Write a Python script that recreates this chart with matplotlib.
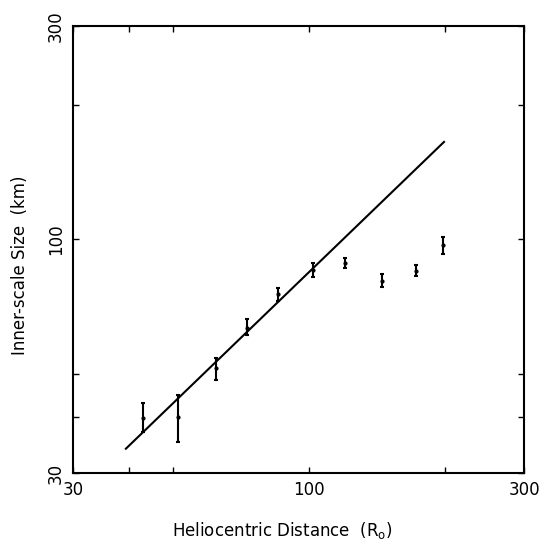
import numpy as np
import matplotlib.pyplot as plt
import matplotlib as mpl

# data
dist = [42.9, 51.3, 62.3, 72.9, 85.5, 102.2, 120.3, 145.3, 172.9, 198.4]
size = [39.8, 40.0, 51.5, 63.3, 75.4, 85.4, 88.5, 80.7, 84.9, 97.1]
size_lo = [37.0, 35.2, 48.5, 61.1, 72.7, 82.4, 86.3, 78.2, 82.8, 92.7]
size_hi = [43.0, 44.8, 54.2, 66.3, 77.8, 88.5, 90.8, 83.6, 87.6, 101.2]

fit_x = [39.3, 199.4]
fit_y = [34.0, 165.1]

major_ticks = [30, 100, 300]
major_labels = ['30', '100', '300']
minor_ticks = [40, 50, 200]

mpl.rcParams['font.family'] = 'DejaVu Sans'
plt.rcParams['font.size'] = 12

fig = plt.figure(figsize=(5.49, 5.48), dpi=100)
ax = fig.add_axes([73/549, 75/548, 451/549, 447/548])

size = np.array(size)
yerr = [size - np.array(size_lo), np.array(size_hi) - size]
ax.errorbar(dist, size, yerr=yerr, fmt='o', color='black', ms=2,
            elinewidth=1.5, capsize=1.5, capthick=1.5)
ax.plot(fit_x, fit_y, color='black', lw=1.5)

ax.set_xscale('log')
ax.set_yscale('log')
ax.set_xlim(30, 300)
ax.set_ylim(30, 300)

for axis in [ax.xaxis, ax.yaxis]:
    axis.set_major_locator(mpl.ticker.FixedLocator(major_ticks))
    axis.set_major_formatter(mpl.ticker.FixedFormatter(major_labels))
    axis.set_minor_locator(mpl.ticker.FixedLocator(minor_ticks))
    axis.set_minor_formatter(mpl.ticker.NullFormatter())

ax.tick_params(which='both', direction='in', top=True, right=True, width=1)
ax.tick_params(which='major', length=4)
ax.tick_params(which='minor', length=4)
ax.tick_params(axis='x', pad=6)
ax.tick_params(axis='y', pad=6)
for lab in ax.get_yticklabels():
    lab.set_rotation(90)
    lab.set_va('center')

for s in ax.spines.values():
    s.set_linewidth(1.5)

ax.set_xlabel(r'Heliocentric Distance  (R$_\mathrm{o}$)', va='center')
ax.set_ylabel('Inner-scale Size  (km)', va='center')
ax.xaxis.set_label_coords(0.463, -0.128)
ax.yaxis.set_label_coords(-0.118, 0.465)

plt.savefig('out.png', dpi=100)
